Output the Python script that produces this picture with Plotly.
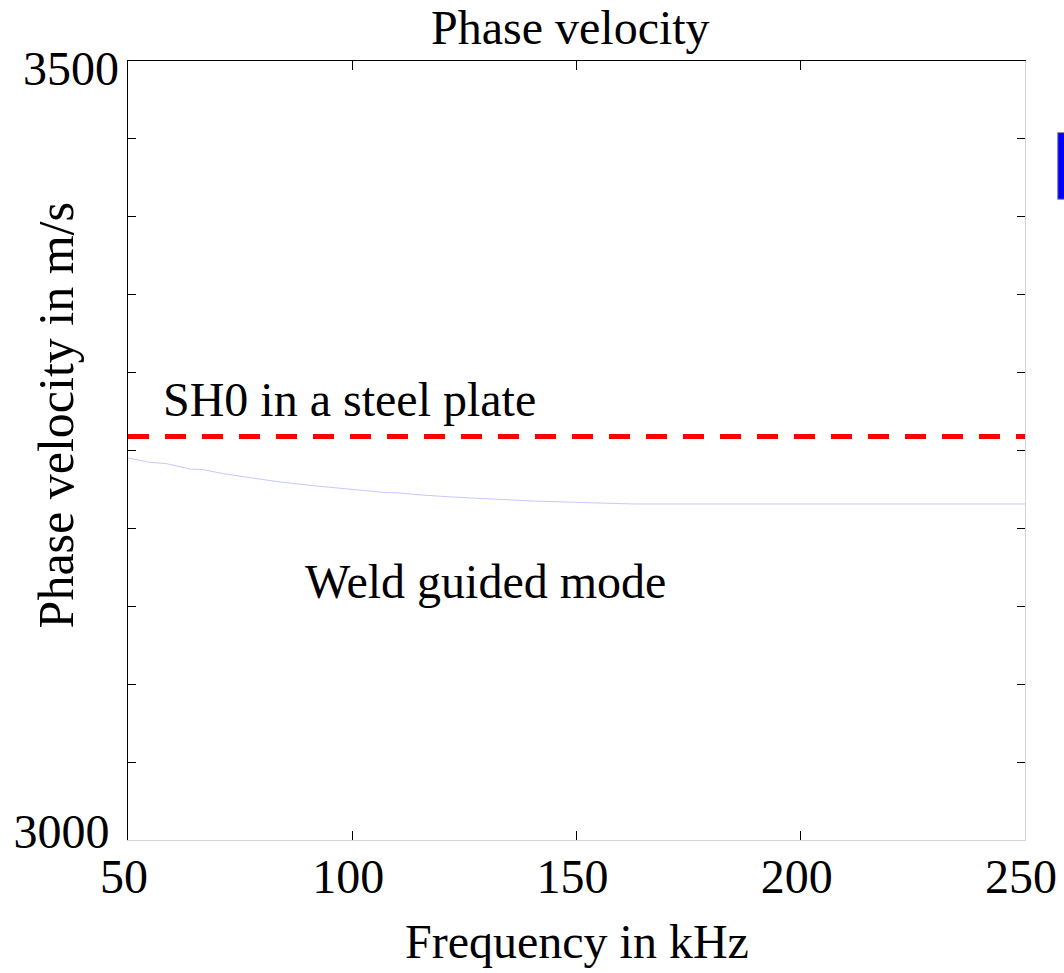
import plotly.graph_objects as go

# ---- data ----
freq_khz = [50, 55, 58.7, 63.9, 66.8, 71.3, 77.6, 83.9, 92.1, 99.5, 107, 110.7,
            115.6, 122, 130.1, 140.1, 152.6, 162.4, 250]
weld_velocity = [3245.2, 3242.4, 3241.5, 3238.1, 3237.7, 3235.1, 3232.4, 3229.8,
                 3227.2, 3225.3, 3223.1, 3222.7, 3221.4, 3220.2, 3218.9, 3217.6,
                 3216.5, 3215.7, 3215.7]
sh0_freq = [50, 250]
sh0_velocity = [3259, 3259]

x_tick_values = [50, 100, 150, 200, 250]
x_tick_labels = ["50", "100", "150", "200", "250"]
y_tick_values = [3000, 3050, 3100, 3150, 3200, 3250, 3300, 3350, 3400, 3450, 3500]
y_low_label = ["3000"]
y_high_label = ["3500"]

FONT = "Liberation Serif, Times New Roman, serif"
FS = 48

fig = go.Figure()
fig.add_trace(go.Scatter(x=freq_khz, y=weld_velocity, mode="lines",
                         line=dict(color="#c8c8ff", width=1), showlegend=False))
fig.add_trace(go.Scatter(x=sh0_freq, y=sh0_velocity, mode="lines",
                         line=dict(color="#ff0000", width=5, dash="21px,16px"),
                         showlegend=False))

axis_common = dict(showgrid=False, zeroline=False, tickcolor="black", tickwidth=1,
                   automargin=False)

fig.update_layout(
    width=1064, height=973, autosize=False,
    margin=dict(l=128, r=39, t=61, b=133),
    paper_bgcolor="white", plot_bgcolor="white",
    font=dict(family=FONT, size=FS, color="black"),
    xaxis=dict(range=[50, 250], tickvals=x_tick_values, ticktext=x_tick_labels,
               ticks="inside", ticklen=9, showline=True, linecolor="#d4d4d4",
               linewidth=1, ticklabelstandoff=-6, ticklabelshift=-4, **axis_common),
    xaxis2=dict(range=[50, 250], overlaying="x", side="top", matches="x",
                tickvals=x_tick_values, showticklabels=False, ticks="inside",
                ticklen=9, showline=True, linecolor="black", linewidth=1,
                **axis_common),
    yaxis=dict(range=[3000, 3500], tickvals=y_tick_values,
               ticktext=y_low_label + [""] * (len(y_tick_values) - 1),
               ticks="inside", ticklen=8, showline=True, linecolor="black",
               linewidth=1, ticklabelstandoff=8, ticklabelshift=-9, **axis_common),
    yaxis3=dict(range=[3000, 3500], overlaying="y", side="left", matches="y",
                tickvals=[y_tick_values[-1]], ticktext=y_high_label, ticks="",
                showline=False, ticklabelstandoff=8, ticklabelshift=7,
                **axis_common),
    yaxis2=dict(range=[3000, 3500], overlaying="y", side="right", matches="y",
                tickvals=y_tick_values, showticklabels=False, ticks="inside",
                ticklen=8, showline=True, linecolor="#d4d4d4", linewidth=1,
                **axis_common),
)

# invisible traces to activate the extra axes
fig.add_trace(go.Scatter(x=[None], y=[None], xaxis="x2", yaxis="y2",
                         showlegend=False, hoverinfo="skip"))
fig.add_trace(go.Scatter(x=[None], y=[None], xaxis="x", yaxis="y3",
                         showlegend=False, hoverinfo="skip"))

ann = dict(showarrow=False, font=dict(family=FONT, size=FS, color="black"))
fig.add_annotation(text="Phase velocity", xref="paper", yref="paper",
                   x=0.493, y=1.0435, xanchor="center", yanchor="middle", **ann)
fig.add_annotation(text="Frequency in kHz", xref="paper", yref="paper",
                   x=0.5, y=-0.1297, xanchor="center", yanchor="middle", **ann)
fig.add_annotation(text="Phase velocity in m/s", xref="paper", yref="paper",
                   x=-0.0803, y=0.545, xanchor="center", yanchor="middle",
                   textangle=-90, showarrow=False,
                   font=dict(family=FONT, size=50, color="black"))
fig.add_annotation(text="SH0 in a steel plate", x=99.3, y=3282.6,
                   xanchor="center", yanchor="middle", **ann)
fig.add_annotation(text="Weld guided mode", x=129.6, y=3165.8,
                   xanchor="center", yanchor="middle", **ann)

# clipped blue legend patch at right edge
fig.add_shape(type="rect", xref="paper", yref="paper",
              x0=1.0365, x1=1.06, y0=0.8225, y1=0.908,
              fillcolor="#0000ff", line=dict(color="#8080a0", width=1))

fig.write_html(
    "out.html",
    config={"displayModeBar": False},
    post_script="document.body.style.margin='0';document.body.style.overflow='hidden';",
)
